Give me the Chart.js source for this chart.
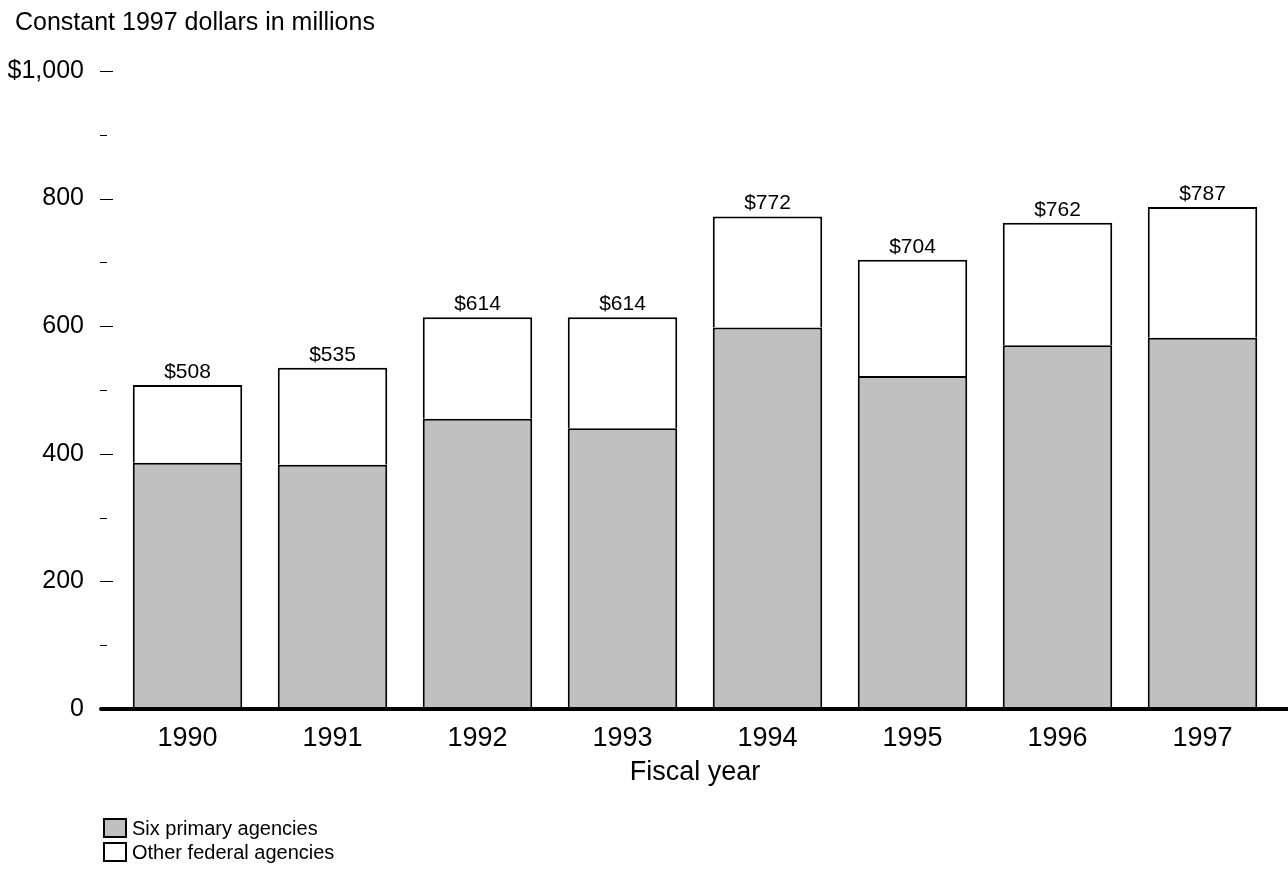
<!DOCTYPE html>
<html>
<head>
<meta charset="utf-8">
<script src="https://cdn.jsdelivr.net/npm/chart.js@4"></script>
<style>
  html, body { margin: 0; padding: 0; background: #fff; }
  #wrap { position: relative; width: 1288px; height: 869px; }
  #c { position: absolute; left: 0; top: 0; }
  #title { position: absolute; left: 15px; top: 6px; font-family: "Liberation Sans", Arial, sans-serif; font-size: 25px; line-height: 30px; color: #000; white-space: nowrap; }
  .leg { position: absolute; left: 103px; height: 20px; font-family: "Liberation Sans", Arial, sans-serif; font-size: 20px; color: #000; white-space: nowrap; }
  .leg .box { position: absolute; left: 0; top: 0; width: 24px; height: 20px; box-sizing: border-box; border: 2px solid #000; }
  .leg .txt { position: absolute; left: 29px; top: -2px; line-height: 24px; }
</style>
</head>
<body>
<div id="wrap">
  <canvas id="c" width="1288" height="869"></canvas>
  <div id="title">Constant 1997 dollars in millions</div>
  <div class="leg" style="top:818px"><div class="box" style="background:#c0c0c0"></div><div class="txt">Six primary agencies</div></div>
  <div class="leg" style="top:842px"><div class="box" style="background:#fff"></div><div class="txt">Other federal agencies</div></div>
</div>
<script>
const years = ['1990', '1991', '1992', '1993', '1994', '1995', '1996', '1997'];
const primaryAgencies = [386, 383, 455, 440, 598, 522, 570, 582];
const otherAgencies = [122, 152, 159, 174, 174, 182, 192, 205];
const totalLabels = [508, 535, 614, 614, 772, 704, 762, 787];
const yMajorLabels = { 0: '0', 200: '200', 400: '400', 600: '600', 800: '800', 1000: '$1,000' };

const FONT = '"Liberation Sans", Arial, sans-serif';
Chart.defaults.font.family = FONT;
Chart.defaults.color = '#000';

const decor = {
  id: 'decor',
  afterDatasetsDraw(chart) {
    const ctx = chart.ctx;
    const y = chart.scales.y;
    const left = chart.chartArea.left;
    ctx.save();
    // y tick marks (major long, minor short)
    ctx.strokeStyle = '#000';
    ctx.lineWidth = 1;
    y.ticks.forEach(t => {
      const py = Math.round(y.getPixelForValue(t.value)) + 0.5;
      const major = (t.value % 200 === 0);
      ctx.beginPath();
      ctx.moveTo(left - 15, py);
      ctx.lineTo(major ? left - 2 : left - 8, py);
      ctx.stroke();
    });
    // thick baseline
    const y0 = y.getPixelForValue(0);
    ctx.lineWidth = 4;
    ctx.lineCap = 'round';
    ctx.beginPath();
    ctx.moveTo(left - 14, y0);
    ctx.lineTo(chart.width + 5, y0);
    ctx.stroke();
    // total labels
    const meta = chart.getDatasetMeta(1);
    ctx.fillStyle = '#000';
    ctx.font = '21px ' + FONT;
    ctx.textAlign = 'center';
    ctx.textBaseline = 'alphabetic';
    meta.data.forEach((el, i) => {
      ctx.fillText('$' + totalLabels[i], el.x, el.y - 7);
    });
    ctx.restore();
  }
};

new Chart(document.getElementById('c'), {
  type: 'bar',
  data: {
    labels: years,
    datasets: [
      { label: 'Six primary agencies', data: primaryAgencies, backgroundColor: '#c0c0c0', borderColor: '#000', borderWidth: 2, borderSkipped: 'start' },
      { label: 'Other federal agencies', data: otherAgencies, backgroundColor: '#fff', borderColor: '#000', borderWidth: 2, borderSkipped: 'start' }
    ]
  },
  options: {
    responsive: false,
    animation: false,
    devicePixelRatio: 1,
    layout: { padding: { left: 0, right: 13, top: 71, bottom: 76 } },
    datasets: { bar: { categoryPercentage: 1, barPercentage: 0.755 } },
    plugins: {
      legend: { display: false },
      tooltip: { enabled: false },
      title: { display: false }
    },
    scales: {
      x: {
        stacked: true,
        grid: { display: false, drawTicks: false },
        border: { display: false },
        ticks: { font: { size: 27 }, padding: 13, color: '#000' },
        title: { display: true, text: 'Fiscal year', font: { size: 27 }, color: '#000', padding: { top: 4, bottom: 4 } },
        afterFit: s => { s.height = 84; }
      },
      y: {
        stacked: true,
        min: 0,
        max: 1000,
        grid: { drawOnChartArea: false, drawTicks: true, tickLength: 13, tickColor: 'rgba(0,0,0,0)' },
        border: { display: false },
        ticks: {
          stepSize: 100,
          padding: 18,
          font: { size: 25 },
          color: '#000',
          autoSkip: false,
          callback: v => (yMajorLabels[v] !== undefined ? yMajorLabels[v] : '')
        },
        afterFit: s => { s.width = 115; }
      }
    }
  },
  plugins: [decor]
});
</script>
</body>
</html>
